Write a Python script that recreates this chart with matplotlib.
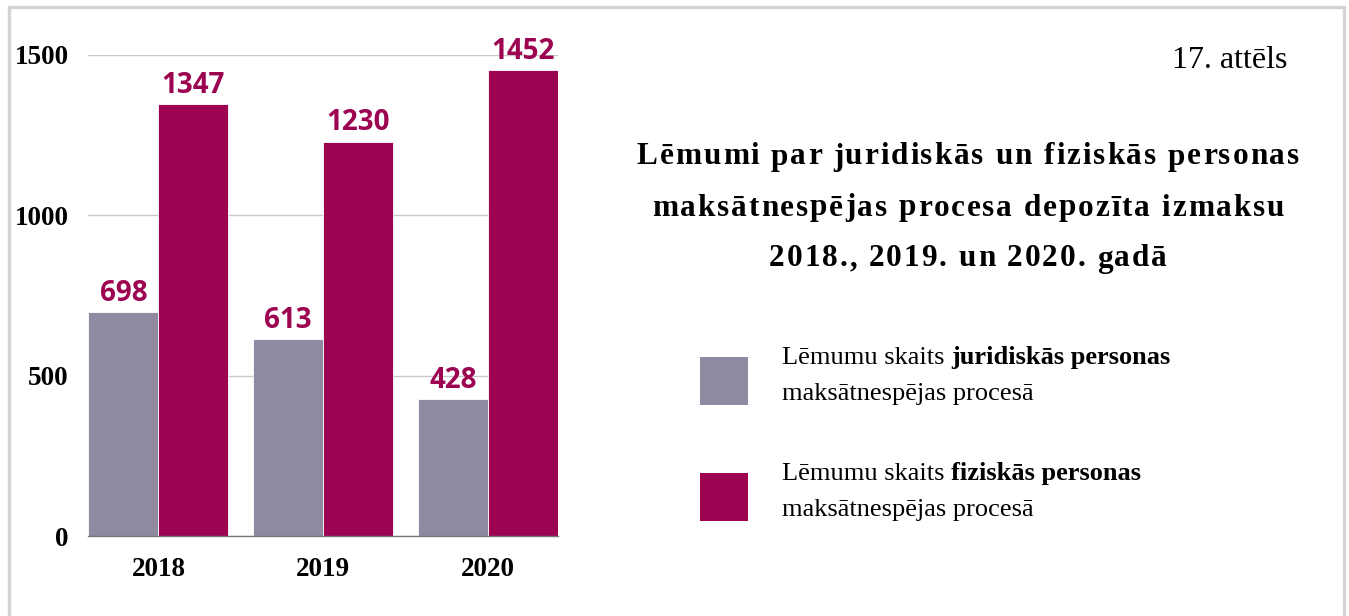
import matplotlib
matplotlib.use("Agg")
import matplotlib.pyplot as plt
from matplotlib.patches import Rectangle
from matplotlib.font_manager import FontProperties
import numpy as np

years = ["2018", "2019", "2020"]
juridiskas = [698, 613, 428]
fiziskas = [1347, 1230, 1452]
yticks = [0, 500, 1000, 1500]

C_GRAY = "#8f8aa2"
C_MAG = "#9c0451"
SERIF = ["Liberation Serif", "DejaVu Serif"]
SANS = ["Open Sans", "Noto Sans", "DejaVu Sans"]

W, H = 1349, 616
fig = plt.figure(figsize=(W / 100, H / 100), dpi=100)
fig.patch.set_facecolor("white")

# outer frame
fig.patches.append(Rectangle((9.0 / W, -0.1), (1343.5 - 9.0) / W, (H - 6.5) / H + 0.1,
                             transform=fig.transFigure, fill=False,
                             edgecolor="#d3d3d3", linewidth=2.4))

ax = fig.add_axes([88 / W, 80 / H, (558 - 88) / W, (536 - 55) / H])
x = np.arange(len(years))
bw = 70 / 165
b1 = ax.bar(x - bw / 2, juridiskas, width=bw, color=C_GRAY, edgecolor="white", linewidth=0.6)
b2 = ax.bar(x + bw / 2, fiziskas, width=bw, color=C_MAG, edgecolor="white", linewidth=0.6)
ax.set_xlim(-70.5 / 165, 2 + 70 / 165)
ax.set_ylim(0, 1500)
ax.set_yticks(yticks)
ax.set_yticklabels([str(v) for v in yticks], fontfamily=SERIF, fontweight="bold", fontsize=19.5)
ax.set_xticks(x)
ax.set_xticklabels(years, fontfamily=SERIF, fontweight="bold", fontsize=19.5)
ax.tick_params(axis="y", length=0, pad=14)
ax.tick_params(axis="x", length=0, pad=15)
ax.grid(axis="y", color="#c8c8c8", linewidth=1)
ax.set_axisbelow(True)
for s in ["top", "right", "left"]:
    ax.spines[s].set_visible(False)
ax.spines["bottom"].set_color("#777777")
ax.spines["bottom"].set_linewidth(1)

for bars, vals in ((b1, juridiskas), (b2, fiziskas)):
    for r, v in zip(bars, vals):
        ax.annotate(str(v), (r.get_x() + r.get_width() / 2, v), xytext=(0, 3),
                    textcoords="offset points", ha="center", va="bottom",
                    fontfamily=SANS, fontweight="bold", fontsize=20, color=C_MAG,
                    annotation_clip=False)

# figure number
fig.text(1287 / W, 1 - 60 / H, "17. attēls", ha="right", va="center",
         fontfamily=SERIF, fontsize=23)

# title with letter spacing
fig.canvas.draw()
renderer = fig.canvas.get_renderer()
tprop = FontProperties(family=SERIF, weight="bold", size=22.5)


def tw(s):
    w, h, d = renderer.get_text_width_height_descent(s, tprop, ismath=False)
    return w


title_lines = ["Lēmumi par juridiskās un fiziskās personas",
               "maksātnespējas procesa depozīta izmaksu",
               "2018., 2019. un 2020. gadā"]
spacing = 1.9  # px between letters
cx = 968
ref_w = tw("H")
for i, line in enumerate(title_lines):
    ypix = 157 + i * 51
    n = len(line)
    total = tw(line) + spacing * (n - 1)
    x0 = cx - total / 2
    for j, ch in enumerate(line):
        if ch == " ":
            continue
        off = tw(line[:j] + "H") - ref_w if j > 0 else 0
        fig.text((x0 + off + j * spacing) / W, 1 - ypix / H, ch, ha="left", va="center",
                 fontproperties=tprop)

# legend
legend_items = [(C_GRAY, "juridiskās personas", 357), (C_MAG, "fiziskās personas", 473)]
for col, bold, ytop in legend_items:
    fig.patches.append(Rectangle((700 / W, 1 - (ytop + 48) / H), 48 / W, 48 / H,
                                 transform=fig.transFigure, facecolor=col, edgecolor="none"))
    t1 = fig.text(782 / W, 1 - (ytop + 1) / H, "Lēmumu skaits ", ha="left", va="center",
                  fontfamily=SERIF, fontsize=19)
    fig.canvas.draw()
    ax.annotate(bold, xy=(1, 0), xycoords=t1, ha="left", va="bottom",
                fontfamily=SERIF, fontweight="bold", fontsize=19, annotation_clip=False)
    fig.text(782 / W, 1 - (ytop + 37) / H, "maksātnespējas procesā", ha="left", va="center",
             fontfamily=SERIF, fontsize=19)

fig.savefig("out.png", dpi=100, facecolor="white")
